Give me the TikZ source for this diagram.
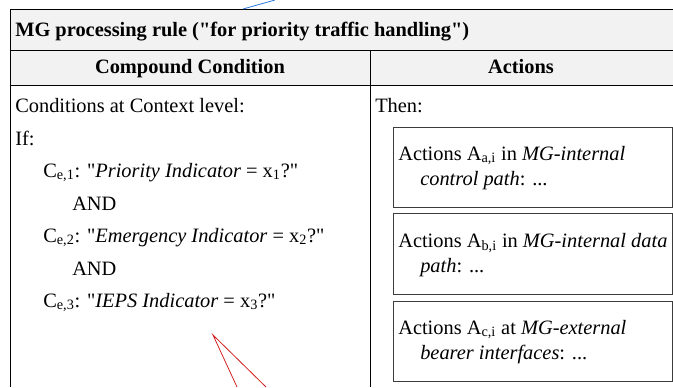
\documentclass[tikz,border=0pt]{standalone}
\usepackage{fontspec}
\setmainfont{Liberation Serif}[Ligatures=ResetAll]
\usepackage{xcolor}
\definecolor{headgray}{RGB}{242,242,242}
\definecolor{rulegray}{RGB}{60,60,60}
\definecolor{callblue}{RGB}{40,120,220}
\definecolor{callred}{RGB}{210,30,30}
\newcommand{\dq}{\textquotedbl}

\begin{document}
\begin{tikzpicture}[x=0.75pt,y=-0.75pt,
    txt/.style={anchor=base west,inner sep=0pt,font=\fontsize{15.3}{18}\selectfont},
    head/.style={inner sep=0pt,font=\fontsize{15.3}{18}\selectfont\bfseries},
    actbox/.style={draw=rulegray,line width=0.7pt}]
          \useasboundingbox (0,0) rectangle (673,387);

          % table frame
          \fill[headgray] (10,9) rectangle (673,85);
          \draw[line width=0.7pt] (673,9)--(10,9)--(10,387);
          \draw[line width=0.7pt] (10,50)--(673,50);
          \draw[line width=0.7pt] (10,85)--(673,85);
          \draw[line width=0.7pt] (370,50)--(370,387);

          \node[head,anchor=base west] (title) at (15,36) {MG processing rule (\dq for priority traffic handling\dq)};
          \node[head,anchor=base] (cond) at (190,73) {Compound Condition};
          \node[head,anchor=base] (act) at (521,73) {Actions};

          % left column
          \node[txt] (lvl) at (15,112) {Conditions at Context level:};
          \node[txt] (if) at (15,145) {If:};
          \node[txt] (c1) at (43,177) {C\textsubscript{e,1}: \dq\textit{Priority Indicator} = x\textsubscript{1}?\dq};
          \node[txt] (and1) at (72,210) {AND};
          \node[txt] (c2) at (43,242) {C\textsubscript{e,2}: \dq\textit{Emergency Indicator} = x\textsubscript{2}?\dq};
          \node[txt] (and2) at (72,275) {AND};
          \node[txt] (c3) at (43,307) {C\textsubscript{e,3}: \dq\textit{IEPS Indicator} = x\textsubscript{3}?\dq};

          % right column
          \node[txt] (then) at (375,112) {Then:};
          \draw[actbox] (393,127) rectangle (672,207);
          \draw[actbox] (393,213) rectangle (672,294);
          \draw[actbox] (393,301) rectangle (672,381);
          \node[txt] (a1) at (398,160) {Actions A\textsubscript{a,i} in \textit{MG-internal}};
          \node[txt] (a1b) at (420,185) {\textit{control path}: ...};
          \node[txt] (a2) at (398,247) {Actions A\textsubscript{b,i} in \textit{MG-internal data}};
          \node[txt] (a2b) at (420,272) {\textit{path}: ...};
          \node[txt] (a3) at (398,334) {Actions A\textsubscript{c,i} at \textit{MG-external}};
          \node[txt] (a3b) at (420,359) {\textit{bearer interfaces}: ...};

          % callout lines
          \coordinate (bluetip) at (243,9);
          \coordinate (blueend) at (275,0);
          \coordinate (redtip) at (213,335);
          \coordinate (redl) at (237,387);
          \coordinate (redr) at (266,387);
          \draw[callblue,line width=0.6pt] (bluetip)--(blueend);
          \draw[callred,line width=0.6pt] (redl)--(redtip)--(redr);
\end{tikzpicture}
\end{document}
